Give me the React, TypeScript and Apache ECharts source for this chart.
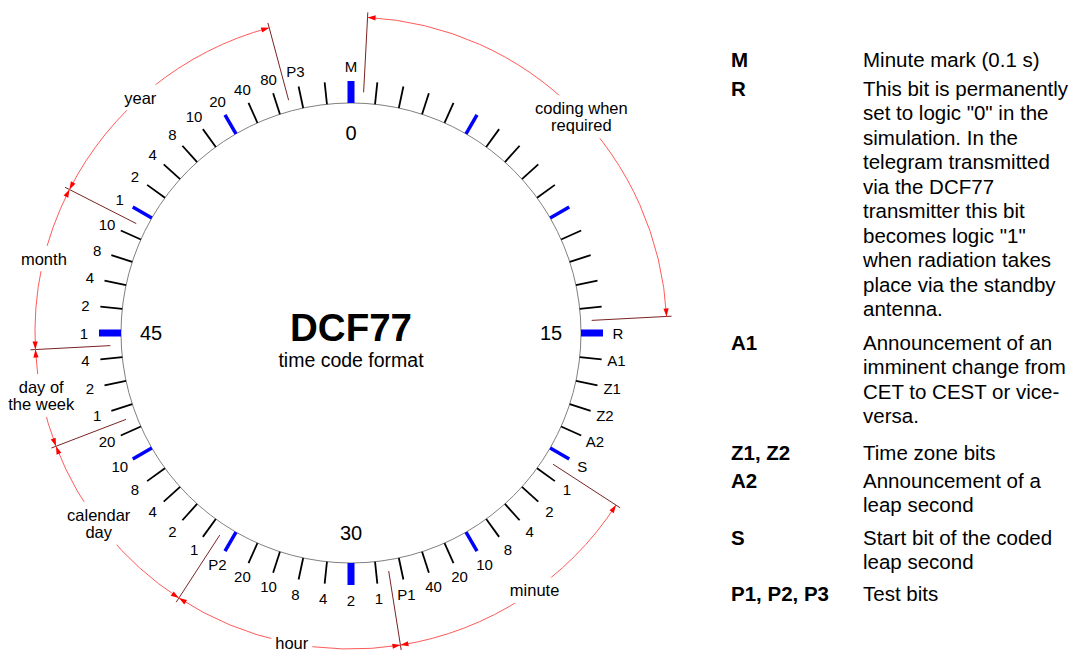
import { useEffect, useRef } from "react";
import * as echarts from "echarts";

// ---------------- data ----------------
// label of each of the 60 second-bits of the DCF77 telegram (bit index = array index)
const BIT_LABELS: string[] = [
  "M", "", "", "", "", "", "", "", "", "", "", "", "", "", "",
  "R", "A1", "Z1", "Z2", "A2", "S",
  "1", "2", "4", "8", "10", "20", "40", "P1",
  "1", "2", "4", "8", "10", "20", "P2",
  "1", "2", "4", "8", "10", "20",
  "1", "2", "4",
  "1", "2", "4", "8", "10",
  "1", "2", "4", "8", "10", "20", "40", "80", "P3", "",
];
const BLUE_BITS: number[] = [0, 5, 10, 15, 20, 25, 30, 35, 40, 45, 50, 55];
const THICK_BITS: number[] = [0, 15, 30, 45];
const SECOND_MARKS: number[] = [0, 15, 30, 45];

const GROUP_NAMES: string[] = [
  "coding when\nrequired", "minute", "hour", "calendar\nday", "day of\nthe week", "month", "year",
];
const GROUP_FIRST_BIT: number[] = [1, 21, 29, 36, 42, 45, 50];
const GROUP_LAST_BIT: number[] = [14, 28, 35, 41, 44, 49, 57];

const LEGEND_KEYS: string[] = ["M", "R", "A1", "Z1, Z2", "A2", "S", "P1, P2, P3"];
const LEGEND_TEXTS: string[] = [
  "Minute mark (0.1 s)",
  "This bit is permanently\nset to logic \"0\" in the\nsimulation. In the\ntelegram transmitted\nvia the DCF77\ntransmitter this bit\nbecomes logic \"1\"\nwhen radiation takes\nplace via the standby\nantenna.",
  "Announcement of an\nimminent change from\nCET to CEST or vice-\nversa.",
  "Time zone bits",
  "Announcement of a\nleap second",
  "Start bit of the coded\nleap second",
  "Test bits",
];

// ---------------- layout ----------------
const CENTER = [351, 333];
const R_MAX = 330;
const R_CIRCLE = 230;
const R_TICK = 252;
const R_LABEL = 267;
const R_SECOND = 200;
const R_DIV0 = 241;
const R_DIV1 = 321;
const R_ARC = 316;
const GROUP_LABEL_AT = [7.8, 24.08, 31.8, 38.83, 43.1, 47.27, 53.03];
const LEGEND_Y = [59, 88, 342, 452, 480, 537, 593];
const LEGEND_KEY_X = 731;
const LEGEND_TEXT_X = 863;
const LEGEND_LH = 24.5;
const FONT = '"Liberation Sans", Arial, Helvetica, sans-serif';
const ARC_COLOR = "#ff5a5a";
const ARROW_COLOR = "#ff0000";
const DIV_COLOR = "#7a2323";

export default function App() {
  const ref = useRef<HTMLDivElement>(null);

  useEffect(() => {
    if (!ref.current) return;
    const chart = echarts.init(ref.current, null, { renderer: "svg" });

    const dividers: number[] = [];
    GROUP_FIRST_BIT.forEach((b) => {
      if (!dividers.includes(b - 0.5)) dividers.push(b - 0.5);
    });
    GROUP_LAST_BIT.forEach((b) => {
      if (!dividers.includes(b + 0.5)) dividers.push(b + 0.5);
    });

    const graphics: any[] = [
      {
        type: "text",
        x: CENTER[0],
        y: 327,
        style: {
          text: "DCF77",
          align: "center",
          verticalAlign: "middle",
          fill: "#000",
          fontSize: 38.5,
          fontWeight: "bold",
          fontFamily: FONT,
        },
      },
      {
        type: "text",
        x: CENTER[0],
        y: 360,
        style: {
          text: "time code format",
          align: "center",
          verticalAlign: "middle",
          fill: "#000",
          fontSize: 19.5,
          fontFamily: FONT,
        },
      },
    ];
    LEGEND_KEYS.forEach((k, i) => {
      graphics.push({
        type: "text",
        x: LEGEND_KEY_X,
        y: LEGEND_Y[i] - LEGEND_LH / 2,
        style: {
          text: k,
          align: "left",
          verticalAlign: "top",
          lineHeight: LEGEND_LH,
          fill: "#000",
          fontSize: 20.5,
          fontWeight: "bold",
          fontFamily: FONT,
        },
      });
      graphics.push({
        type: "text",
        x: LEGEND_TEXT_X,
        y: LEGEND_Y[i] - LEGEND_LH / 2,
        style: {
          text: LEGEND_TEXTS[i],
          align: "left",
          verticalAlign: "top",
          lineHeight: LEGEND_LH,
          fill: "#000",
          fontSize: 20.5,
          fontFamily: FONT,
        },
      });
    });

    const option: any = {
      animation: false,
      backgroundColor: "#fff",
      polar: { center: CENTER, radius: R_MAX },
      angleAxis: { type: "value", min: 0, max: 60, startAngle: 90, clockwise: true, show: false },
      radiusAxis: { type: "value", min: 0, max: R_MAX, show: false },
      graphic: graphics,
      series: [
        // base circle
        {
          type: "custom",
          coordinateSystem: "polar",
          silent: true,
          data: [[R_CIRCLE, 0]],
          renderItem: (_p: any, api: any) => {
            const c = api.coord([0, 0]);
            const p = api.coord([api.value(0), api.value(1)]);
            const r = Math.hypot(p[0] - c[0], p[1] - c[1]);
            return {
              type: "circle",
              shape: { cx: c[0], cy: c[1], r },
              style: { fill: "none", stroke: "#808080", lineWidth: 1 },
            };
          },
        },
        // ticks + bit labels
        {
          type: "custom",
          coordinateSystem: "polar",
          silent: true,
          data: BIT_LABELS.map((_, i) => [R_CIRCLE, i]),
          renderItem: (_p: any, api: any) => {
            const i = api.value(1) as number;
            const p0 = api.coord([R_CIRCLE, i]);
            const p1 = api.coord([R_TICK, i]);
            const pl = api.coord([R_LABEL, i]);
            const blue = BLUE_BITS.includes(i);
            const thick = THICK_BITS.includes(i);
            const children: any[] = [
              {
                type: "line",
                shape: { x1: p0[0], y1: p0[1], x2: p1[0], y2: p1[1] },
                style: {
                  stroke: blue ? "#0000ff" : "#000",
                  lineWidth: thick ? 7 : blue ? 3.5 : 1.8,
                  lineCap: "butt",
                },
              },
            ];
            if (BIT_LABELS[i]) {
              children.push({
                type: "text",
                style: {
                  text: BIT_LABELS[i],
                  x: pl[0],
                  y: pl[1],
                  align: "center",
                  verticalAlign: "middle",
                  fill: "#000",
                  fontSize: 15,
                  fontFamily: FONT,
                },
              });
            }
            return { type: "group", children };
          },
        },
        // second marks inside the circle
        {
          type: "custom",
          coordinateSystem: "polar",
          silent: true,
          data: SECOND_MARKS.map((s) => [R_SECOND, s]),
          renderItem: (_p: any, api: any) => {
            const s = api.value(1) as number;
            const p = api.coord([api.value(0), s]);
            return {
              type: "text",
              style: {
                text: String(s),
                x: p[0],
                y: p[1],
                align: "center",
                verticalAlign: "middle",
                fill: "#000",
                fontSize: 20,
                fontFamily: FONT,
              },
            };
          },
        },
        // dividers
        {
          type: "custom",
          coordinateSystem: "polar",
          silent: true,
          data: dividers.map((d) => [R_DIV0, d]),
          renderItem: (_p: any, api: any) => {
            const a = api.value(1) as number;
            const p0 = api.coord([R_DIV0, a]);
            const p1 = api.coord([R_DIV1, a]);
            return {
              type: "line",
              shape: { x1: p0[0], y1: p0[1], x2: p1[0], y2: p1[1] },
              style: { stroke: DIV_COLOR, lineWidth: 1 },
            };
          },
        },
        // group arcs with arrows and names
        {
          type: "custom",
          coordinateSystem: "polar",
          silent: true,
          data: GROUP_FIRST_BIT.map((b) => [R_ARC, b - 0.5]),
          renderItem: (params: any, api: any) => {
            const k = params.dataIndex;
            const a0 = GROUP_FIRST_BIT[k] - 0.5;
            const a1 = GROUP_LAST_BIT[k] + 0.5;
            const c = api.coord([0, 0]);
            const pS = api.coord([R_ARC, a0]);
            const pE = api.coord([R_ARC, a1]);
            const r = Math.hypot(pS[0] - c[0], pS[1] - c[1]);
            let s = Math.atan2(pS[1] - c[1], pS[0] - c[0]);
            let e = Math.atan2(pE[1] - c[1], pE[0] - c[0]);
            if (e <= s) e += Math.PI * 2;
            const dA = (8 / (2 * Math.PI * r)) * 60;
            const aw = 2.6;
            const pl = api.coord([R_ARC, GROUP_LABEL_AT[k]]);
            return {
              type: "group",
              children: [
                {
                  type: "arc",
                  shape: { cx: c[0], cy: c[1], r, startAngle: s, endAngle: e, clockwise: true },
                  style: { stroke: ARC_COLOR, fill: "none", lineWidth: 1 },
                },
                {
                  type: "polygon",
                  shape: {
                    points: [pS, api.coord([R_ARC - aw, a0 + dA]), api.coord([R_ARC + aw, a0 + dA])],
                  },
                  style: { fill: ARROW_COLOR },
                },
                {
                  type: "polygon",
                  shape: {
                    points: [pE, api.coord([R_ARC - aw, a1 - dA]), api.coord([R_ARC + aw, a1 - dA])],
                  },
                  style: { fill: ARROW_COLOR },
                },
                {
                  type: "text",
                  style: {
                    text: GROUP_NAMES[k],
                    x: pl[0],
                    y: pl[1],
                    align: "center",
                    verticalAlign: "middle",
                    lineHeight: 17.5,
                    fill: "#000",
                    fontSize: 16.5,
                    fontFamily: FONT,
                    backgroundColor: "#fff",
                    padding: [4, 4],
                  },
                },
              ],
            };
          },
        },
      ],
    };

    chart.setOption(option);
    return () => chart.dispose();
  }, []);

  return (
    <div
      ref={ref}
      style={{ position: "absolute", left: 0, top: 0, width: 1085, height: 651, background: "#fff" }}
    />
  );
}
